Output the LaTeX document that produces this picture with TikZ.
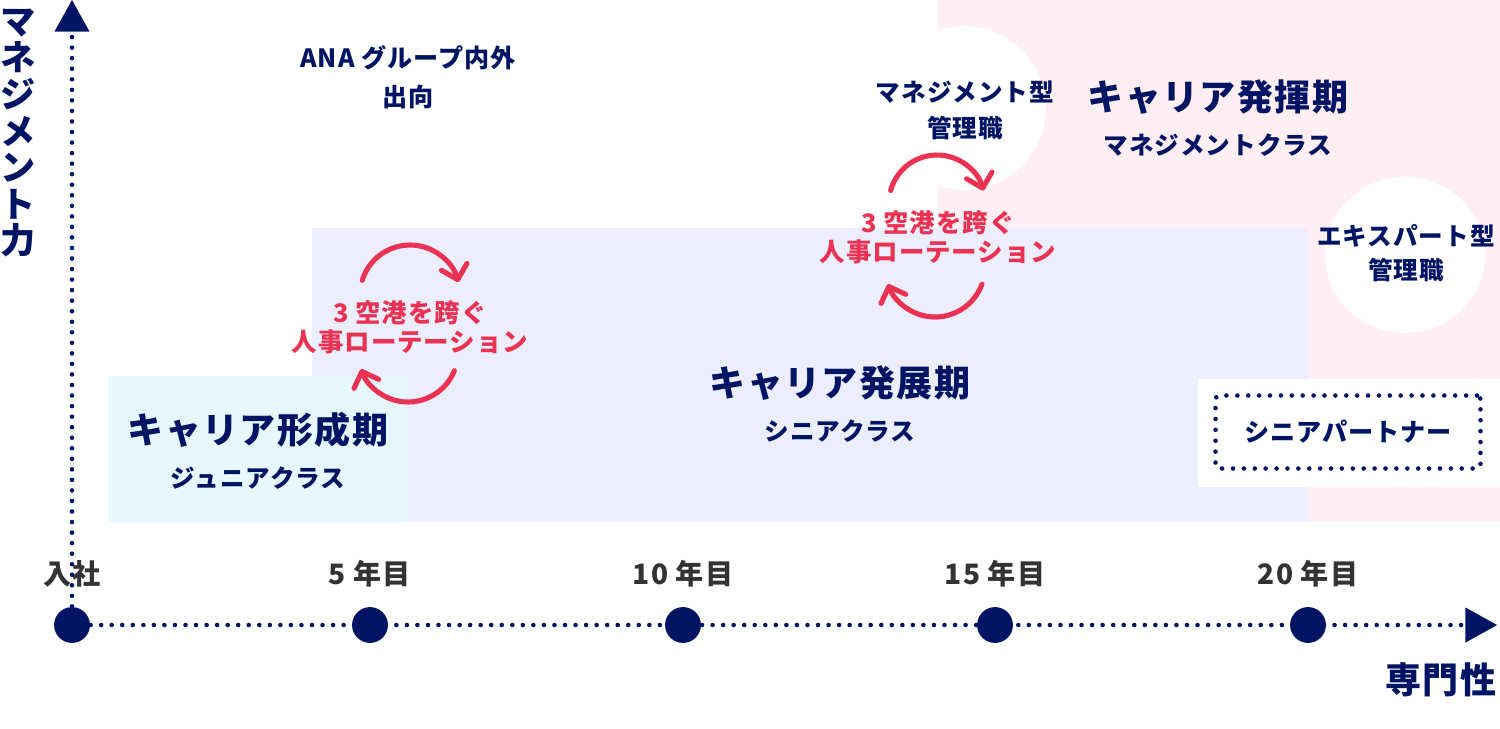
\documentclass[tikz,border=0pt]{standalone}
\usepackage{fontspec}
\setmainfont{Noto Sans CJK JP}[LetterSpace=4]
\usepackage{tikz}
\usetikzlibrary{positioning,arrows.meta}
\definecolor{navy}{RGB}{0,20,100}
\definecolor{rotred}{RGB}{234,50,82}
\definecolor{labelgrey}{RGB}{51,51,51}
\definecolor{pinkbg}{RGB}{255,238,242}
\definecolor{lavbg}{RGB}{236,238,253}
\definecolor{cyanbg}{RGB}{230,248,253}

\begin{document}
\begin{tikzpicture}[x=0.02cm, y=-0.02cm, thick,
    phase/.style={font=\bfseries\fontsize{20.5pt}{24pt}\selectfont, text=navy, inner sep=0pt},
    rank/.style={font=\bfseries\fontsize{14pt}{17pt}\selectfont, text=navy, inner sep=0pt},
    career/.style={font=\bfseries\fontsize{14pt}{20.4pt}\selectfont, text=navy, align=center, inner sep=0pt},
    rotlabel/.style={font=\bfseries\fontsize{14.5pt}{16.6pt}\selectfont, text=rotred, align=center, inner sep=0pt},
    yearlabel/.style={font=\bfseries\fontsize{16pt}{18pt}\selectfont, text=labelgrey, inner sep=0pt},
    yeardot/.style={circle, fill=navy, minimum size=20.4pt, inner sep=0pt},
    axisline/.style={navy, line width=2.6pt, line cap=round, dash pattern=on 0pt off 6pt,
      -{Triangle[width=20pt, length=18pt, line width=0pt, round=false]}},
    rotarrow/.style={rotred, line width=2.9pt, line cap=round,
      -{Straight Barb[length=7.5pt, width=15pt, round]}},
    partner/.style={draw=navy, line width=2.6pt, line cap=round, dash pattern=on 0pt off 6.2pt,
      rounded corners=2pt, minimum width=5.3cm, minimum height=1.46cm,
      font=\bfseries\fontsize{14.3pt}{17pt}\selectfont, text=navy}]

  \useasboundingbox (0,0) rectangle (1500,728);

  % Background areas
  \fill[pinkbg] (938,0) rectangle (1500,522);
  \fill[white] (964,108) circle[radius=82];
  \fill[white] (1405,255) circle[x radius=80, y radius=78];
  \fill[lavbg] (312,228) rectangle (1308,522);
  \fill[cyanbg] (108,376) rectangle (408,522);
  \fill[white] (1198,379) rectangle (1500,487);

  % Define nodes
  \node[phase] (forming) at (258,430) {キャリア形成期};
  \node[rank, below=10pt of forming] (junior) {ジュニアクラス};
  \node[phase] (develop) at (840,383) {キャリア発展期};
  \node[rank, below=10pt of develop] (senior) {シニアクラス};
  \node[phase] (exert) at (1218,97) {キャリア発揮期};
  \node[rank, below=10pt of exert] (mgclass) {マネジメントクラス};

  \node[career, font=\bfseries\fontsize{14.3pt}{22pt}\selectfont] (secondment) at (408,77) {ANA グループ内外\\出向};
  \node[career] (mgtype) at (965,110) {マネジメント型\\管理職};
  \node[career, font=\bfseries\fontsize{14pt}{19.3pt}\selectfont] (extype) at (1406,253) {エキスパート型\\管理職};
  \node[partner] (partner) at (1348,432) {シニアパートナー};

  \node[rotlabel] (rotA) at (410,327) {3 空港を跨ぐ\\人事ローテーション};
  \node[rotlabel] (rotB) at (938,237) {3 空港を跨ぐ\\人事ローテーション};

  \node[font=\bfseries\fontsize{20pt}{20.8pt}\selectfont, text=navy, align=center, inner sep=0pt]
    (mgmt) at (18,133) {マ\\ネ\\ジ\\メ\\ン\\ト\\力};
  \node[font=\bfseries\fontsize{20.5pt}{24pt}\selectfont, text=navy, inner sep=0pt]
    (expert) at (1441,680) {専門性};

  % Time line
  \coordinate (vtop) at (72,0);
  \coordinate (htip) at (1497,625);
  \foreach \yr/\px/\txt in {0/72/入社, 5/370/5 年目, 10/683/10 年目, 15/995/15 年目, 20/1308/20 年目}{
    \node[yeardot] (y\yr) at (\px,625) {};
    \node[yearlabel] (l\yr) at (\px,574) {\txt};
  }
  \draw[axisline] (y0) -- (vtop);
  \draw[axisline] (y0) -- (htip);

  % Rotation arrows
  \coordinate (rotAup) at (410,295);
  \coordinate (rotAdown) at (408,352);
  \coordinate (rotBup) at (937,203);
  \coordinate (rotBdown) at (935,267);
  \draw[rotarrow] (rotAup) ++(197:50) arc[start angle=197, end angle=345, radius=50];
  \draw[rotarrow] (rotAdown) ++(22:50) arc[start angle=22, end angle=160, radius=50];
  \draw[rotarrow] (rotBup) ++(195:48) arc[start angle=195, end angle=345, radius=48];
  \draw[rotarrow] (rotBdown) ++(20:50) arc[start angle=20, end angle=160, radius=50];

\end{tikzpicture}
\end{document}
